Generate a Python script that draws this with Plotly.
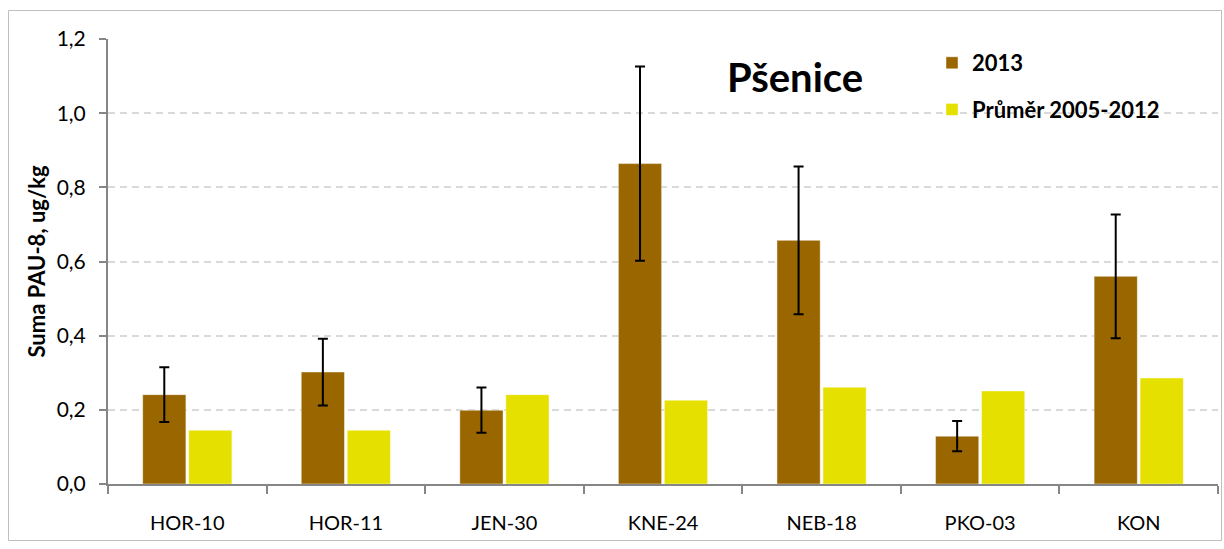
import plotly.graph_objects as go

# Sampling sites
sites = ["HOR-10", "HOR-11", "JEN-30", "KNE-24", "NEB-18", "PKO-03", "KON"]

# Sum of PAH-8 in wheat, ug/kg
values_2013 = [0.241, 0.302, 0.199, 0.864, 0.657, 0.129, 0.560]
errors_2013 = [0.074, 0.090, 0.061, 0.262, 0.199, 0.041, 0.167]
values_avg = [0.145, 0.145, 0.241, 0.226, 0.261, 0.251, 0.286]

y_ticks = [0.0, 0.2, 0.4, 0.6, 0.8, 1.0, 1.2]

FONT = "Lato"
W, H = 1224, 549
M_L, M_R, M_T, M_B = 108, 6, 39, 65

fig = go.Figure()
fig.add_trace(go.Bar(
    x=sites, y=values_2013, name="<b>2013</b>", legendgroup="a",
    marker=dict(color="#996600", line=dict(color="rgba(255,255,255,0.45)", width=1)),
    error_y=dict(type="data", array=errors_2013, color="black", thickness=2, width=5),
))
fig.add_trace(go.Bar(
    x=sites, y=values_avg, name="<b>Průměr 2005-2012</b>", legendgroup="b",
    marker=dict(color="#E6E000", line=dict(color="rgba(255,255,255,0.45)", width=1)),
))

# outer chart frame
pw = W - M_L - M_R
ph = H - M_T - M_B
def px_x(p):
    return (p - M_L) / pw
def px_y(p):
    return (H - M_B - p) / ph

fig.add_shape(type="rect", xref="paper", yref="paper",
              x0=px_x(8.5), x1=px_x(1221.5), y0=px_y(540.5), y1=px_y(10.5),
              line=dict(color="#BFBFBF", width=1), fillcolor="rgba(0,0,0,0)", layer="below")

fig.update_layout(
    width=W, height=H,
    margin=dict(l=M_L, r=M_R, t=M_T, b=M_B),
    paper_bgcolor="white", plot_bgcolor="white",
    separators=", ",
    font=dict(family=FONT, color="black"),
    barmode="group", bargap=0.42, bargroupgap=0.06,
    title=dict(text="<b>Pšenice</b>", x=px_x(795), xanchor="center",
               y=1 - 78 / H, yanchor="middle", xref="paper", yref="container",
               font=dict(family=FONT, size=40, color="black")),
    legend=dict(x=px_x(932), y=px_y(42), xanchor="left", yanchor="top",
                font=dict(family=FONT, size=22, color="black"),
                tracegroupgap=15, bgcolor="rgba(0,0,0,0)", itemwidth=30),
    showlegend=True,
)
fig.update_xaxes(
    type="category", showline=True, linecolor="#868686", linewidth=2,
    ticks="outside", tickson="boundaries", ticklen=8, tickcolor="#868686", tickwidth=2,
    tickfont=dict(family=FONT, size=20, color="black"), ticklabelstandoff=20,
    showgrid=False,
)
fig.update_yaxes(
    range=[0, 1.2], tickvals=y_ticks, tickformat=".1f",
    showline=True, linecolor="#868686", linewidth=2,
    ticks="outside", ticklen=7, tickcolor="#868686", tickwidth=2,
    tickfont=dict(family=FONT, size=21, color="black"), ticklabelstandoff=9,
    showgrid=True, gridcolor="#D9D9D9", gridwidth=1.5, griddash="7px,5px",
    zeroline=False,
    title=dict(text="<b>Suma PAU-8, ug/kg</b>", font=dict(family=FONT, size=22, color="black"),
               standoff=5),
)

fig.write_html("out.html")
